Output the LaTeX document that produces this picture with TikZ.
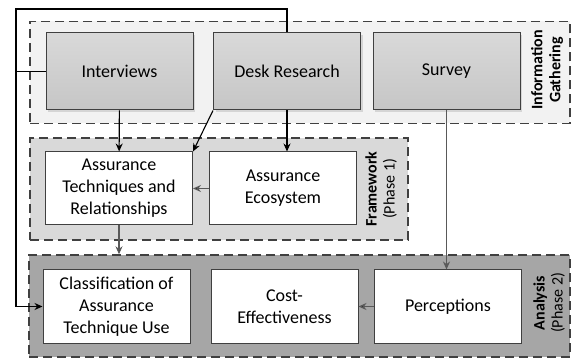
\documentclass[tikz,border=0pt]{standalone}
\usepackage{fontspec}
\setmainfont{Carlito}
\usetikzlibrary{positioning}
\usetikzlibrary{shadows}
\usetikzlibrary{arrows.meta}

\definecolor{lineGray}{HTML}{404040}
\definecolor{arrowGray}{HTML}{595959}
\definecolor{groupLight}{HTML}{F2F2F2}
\definecolor{groupMid}{HTML}{D9D9D9}
\definecolor{groupDark}{HTML}{A6A6A6}

\tikzset{
  group/.style={draw=lineGray,line width=1.4pt,dash pattern=on 9pt off 5pt,
    minimum height=102pt,inner sep=0pt},
  source/.style={draw=lineGray,line width=1pt,top color=gray!30,bottom color=gray!45,
    minimum width=147pt,minimum height=77pt,font=\fontsize{18}{22}\selectfont,
    drop shadow={shadow xshift=2pt,shadow yshift=-2pt,opacity=0.25}},
  result/.style={draw=lineGray,line width=1pt,fill=white,align=center,
    minimum width=147pt,minimum height=73pt,font=\fontsize{18}{22}\selectfont},
  phase/.style={rotate=90,align=center,font=\fontsize{16}{18}\selectfont},
  link/.style={-{Stealth[length=8pt,width=7pt]},line width=1.1pt},
  weak/.style={link,draw=arrowGray}
}

\begin{document}
\begin{tikzpicture}[x=1pt,y=-1pt]
\useasboundingbox (0,0) rectangle (576,358);

% groups
\node[group,fill=groupLight,minimum width=540pt] (gather) at (300,72.5) {};
\node[group,fill=groupMid,minimum width=378pt] (frame) at (219,189) {};
\node[group,fill=groupDark,minimum width=541pt] (analysis) at (299.5,306) {};

% information gathering
\node[source] (interviews) at (119.5,71.5) {Interviews};
\node[source] (desk) at (287,71.5) {Desk Research};
\node[source] (survey) at (446.5,71.5) {Survey};
\node[phase] (gatherlabel) at (547,70) {\textbf{Information}\\\textbf{Gathering}};

% framework
\node[result] (techniques) at (119,188.5) {Assurance\\Techniques and\\Relationships};
\node[result] (ecosystem) at (283,188.5) {Assurance\\Ecosystem};
\node[phase] (framelabel) at (381,189) {\textbf{Framework}\\(Phase 1)};

% analysis
\node[result] (classify) at (116.5,306.5) {Classification of\\Assurance\\Technique Use};
\node[result] (cost) at (284.5,306.5) {Cost-\\Effectiveness};
\node[result] (perceptions) at (448,306.5) {Perceptions};
\node[phase] (analysislabel) at (549,303) {\textbf{Analysis}\\(Phase 2)};

\coordinate (loopright) at (287,9);
\coordinate (loopleft) at (16,9);

\path[link]
  (interviews) edge (techniques)
  (desk.south west) edge (techniques.north east)
  (desk) edge (desk|-ecosystem.north);
\draw[link] (desk.north) -- (loopright) -- (loopleft) |- (classify.west);
\draw[line width=1.1pt] (interviews.west) -- (loopleft|-interviews.west);

\path[weak]
  (ecosystem) edge (techniques)
  (techniques) edge (techniques|-analysis.north)
  (perceptions) edge (cost);
\draw[weak] (survey.south) -- (survey.south|-perceptions.north);
\end{tikzpicture}
\end{document}
